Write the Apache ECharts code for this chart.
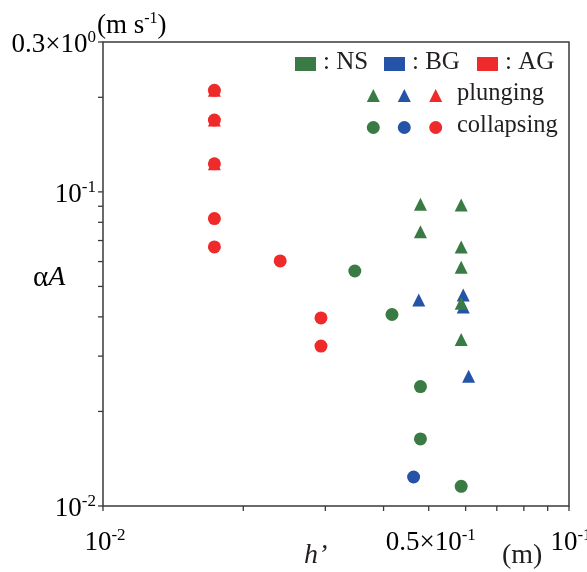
<!DOCTYPE html>
<html>
<head>
<meta charset="utf-8">
<script src="https://cdn.jsdelivr.net/npm/echarts@6/dist/echarts.min.js"></script>
<style>
  html, body { margin: 0; padding: 0; background: #fff; }
  #chart { width: 587px; height: 572px; }
</style>
</head>
<body>
<div id="chart"></div>
<script>
// data: [h' (m), alphaA (m/s)]
const nsPlunging = [[0.0480, 0.0913], [0.0587, 0.0909], [0.0480, 0.0747], [0.0587, 0.0667],
  [0.0587, 0.0575], [0.0587, 0.0442], [0.0587, 0.0339]];
const nsCollapsing = [[0.0347, 0.0560], [0.0417, 0.0407], [0.0480, 0.0240], [0.0480, 0.01635], [0.0587, 0.01155]];
const bgPlunging = [[0.0476, 0.0453], [0.0593, 0.0470], [0.0593, 0.0430], [0.0609, 0.0259]];
const bgCollapsing = [[0.0464, 0.01237]];
const agPlunging = [[0.01734, 0.2105], [0.01734, 0.1693], [0.01734, 0.1229]];
const agCollapsing = [[0.01734, 0.2105], [0.01734, 0.1693], [0.01734, 0.1229], [0.01734, 0.0822],
  [0.01734, 0.0668], [0.0240, 0.0603], [0.02936, 0.0397], [0.02936, 0.0323]];

// axis ticks and labels
const xMin = 0.01, xMax = 0.1, yMin = 0.01, yMax = 0.3;
const xTicks = [0.01, 0.02, 0.03, 0.04, 0.05, 0.06, 0.07, 0.08, 0.09, 0.1];
const yTicks = [0.01, 0.02, 0.03, 0.04, 0.05, 0.06, 0.07, 0.08, 0.09, 0.1, 0.2, 0.3];
const xLabelVals = [0.01, 0.05, 0.1];
const xLabelBase = ['10', '0.5×10', '10'];
const xLabelSup = ['-2', '-1', '-1'];
const yLabelVals = [0.01, 0.1, 0.3];
const yLabelBase = ['10', '10', '0.3×10'];
const yLabelSup = ['-2', '-1', '0'];

const GREEN = '#3a7b45', BLUE = '#2553a7', RED = '#ee2a2a';
const INK = '#231f20', AXIS = '#3a3a3a';
const SERIF = '"Liberation Serif", "DejaVu Serif", serif';

const rich = {
  b: { fontFamily: SERIF, fontSize: 27, lineHeight: 29, color: INK, verticalAlign: 'bottom' },
  s: { fontFamily: SERIF, fontSize: 17, lineHeight: 16, color: INK, verticalAlign: 'top' }
};

function tickSeries(vals, isX) {
  return {
    type: 'custom', silent: true, clip: false, z: 5,
    data: vals.map(v => isX ? [v, yMin] : [xMin, v]),
    renderItem: function (params, api) {
      const p = api.coord([api.value(0), api.value(1)]);
      const shape = isX ? { x1: p[0], y1: p[1], x2: p[0], y2: p[1] + 5 }
                        : { x1: p[0] - 5, y1: p[1], x2: p[0], y2: p[1] };
      return { type: 'line', shape: shape, style: { stroke: AXIS, lineWidth: 1.3 } };
    }
  };
}

function labelSeries(vals, bases, sups, isX) {
  return {
    type: 'custom', silent: true, clip: false, z: 5,
    data: vals.map(v => isX ? [v, yMin] : [xMin, v]),
    renderItem: function (params, api) {
      const p = api.coord([api.value(0), api.value(1)]);
      const i = params.dataIndex;
      return {
        type: 'text',
        x: isX ? p[0] + 2 : p[0] - 7,
        y: isX ? p[1] + 36 : p[1] + 2,
        style: {
          text: '{b|' + bases[i] + '}{s|' + sups[i] + '}',
          rich: rich,
          align: isX ? 'center' : 'right',
          verticalAlign: 'middle'
        }
      };
    }
  };
}

function scatter(name, data, color, symbol) {
  return {
    name: name, type: 'scatter', data: data, symbol: symbol, symbolSize: 13,
    itemStyle: { color: color, opacity: 1 }, silent: true, z: 3
  };
}

const chart = echarts.init(document.getElementById('chart'));

// legend pieces
const legendGraphics = [];
const legendSquares = [[295, GREEN, ': NS'], [384, BLUE, ': BG'], [477, RED, ': AG']];
legendSquares.forEach(s => {
  legendGraphics.push({ type: 'rect', left: s[0], top: 57, shape: { width: 21, height: 14 }, style: { fill: s[1] } });
  legendGraphics.push({ type: 'text', x: s[0] + 28, y: 62, style: { text: s[2], font: '25px ' + SERIF, fill: INK, verticalAlign: 'middle' } });
});
const legendX = [373.3, 404.3, 435.7];
const legendColors = [GREEN, BLUE, RED];
legendX.forEach((cx, i) => {
  legendGraphics.push({ type: 'polygon', shape: { points: [[cx, 89], [cx + 6.5, 102], [cx - 6.5, 102]] }, style: { fill: legendColors[i] } });
  legendGraphics.push({ type: 'circle', shape: { cx: cx, cy: 127.5, r: 6.5 }, style: { fill: legendColors[i] } });
});
legendGraphics.push({ type: 'text', x: 457, y: 94, style: { text: 'plunging', font: '24.5px ' + SERIF, fill: INK, verticalAlign: 'middle' } });
legendGraphics.push({ type: 'text', x: 457, y: 125.5, style: { text: 'collapsing', font: '24.5px ' + SERIF, fill: INK, verticalAlign: 'middle' } });

// axis names
legendGraphics.push({
  type: 'text', x: 97, y: 25,
  style: {
    text: '{b|(m s}{s|-1}{b|)}', verticalAlign: 'middle',
    rich: {
      b: { fontFamily: SERIF, fontSize: 27, lineHeight: 29, color: INK, verticalAlign: 'bottom' },
      s: { fontFamily: SERIF, fontSize: 16, lineHeight: 15, color: INK, verticalAlign: 'top' }
    }
  }
});
legendGraphics.push({
  type: 'text', x: 33, y: 278,
  style: {
    text: '{a|α}{i|A}', verticalAlign: 'middle',
    rich: {
      a: { fontFamily: SERIF, fontSize: 29, color: INK },
      i: { fontFamily: SERIF, fontSize: 28, fontStyle: 'italic', color: INK }
    }
  }
});
legendGraphics.push({ type: 'text', x: 304, y: 556, style: { text: 'h’', font: 'italic 28px ' + SERIF, fill: INK, verticalAlign: 'middle' } });
legendGraphics.push({ type: 'text', x: 502, y: 556, style: { text: '(m)', font: '28px ' + SERIF, fill: INK, verticalAlign: 'middle' } });

chart.setOption({
  animation: false,
  backgroundColor: '#fff',
  grid: { left: 103, right: 18, top: 42, bottom: 66, show: true, borderColor: AXIS, borderWidth: 1.5, backgroundColor: 'transparent' },
  xAxis: {
    type: 'log', logBase: 10, min: xMin, max: xMax,
    axisLine: { show: false }, axisTick: { show: false }, axisLabel: { show: false },
    splitLine: { show: false }, minorTick: { show: false }
  },
  yAxis: {
    type: 'log', logBase: 10, min: yMin, max: yMax,
    axisLine: { show: false }, axisTick: { show: false }, axisLabel: { show: false },
    splitLine: { show: false }, minorTick: { show: false }
  },
  graphic: legendGraphics,
  series: [
    scatter('BG plunging', bgPlunging, BLUE, 'triangle'),
    scatter('BG collapsing', bgCollapsing, BLUE, 'circle'),
    scatter('NS plunging', nsPlunging, GREEN, 'triangle'),
    scatter('NS collapsing', nsCollapsing, GREEN, 'circle'),
    scatter('AG plunging', agPlunging, RED, 'triangle'),
    scatter('AG collapsing', agCollapsing, RED, 'circle'),
    tickSeries(xTicks, true),
    tickSeries(yTicks, false),
    labelSeries(xLabelVals, xLabelBase, xLabelSup, true),
    labelSeries(yLabelVals, yLabelBase, yLabelSup, false)
  ]
});
</script>
</body>
</html>
